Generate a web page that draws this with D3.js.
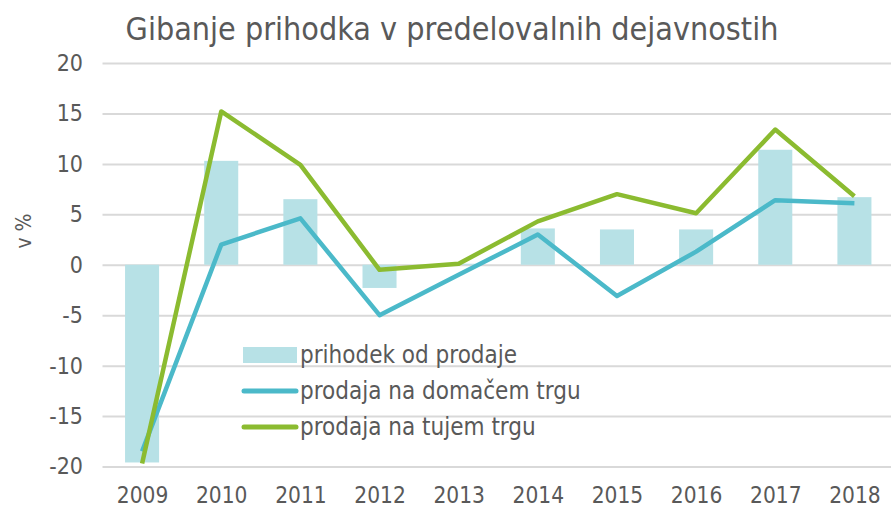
<!DOCTYPE html>
<html><head><meta charset="utf-8">
<script src="https://cdn.jsdelivr.net/npm/d3@7"></script>
<style>
html,body{margin:0;padding:0;background:#fff;}
text{font-family:"DejaVu Sans Condensed","DejaVu Sans",sans-serif;fill:#595959;}
</style></head><body>
<svg id="c" width="891" height="508"></svg>
<script>
const years = ["2009","2010","2011","2012","2013","2014","2015","2016","2017","2018"];
const prihodek = [-19.6,10.3,6.5,-2.3,0.1,3.6,3.5,3.5,11.4,6.7];
const domaci = [-18.5,2.0,4.6,-5.0,-1.0,3.0,-3.1,1.3,6.4,6.1];
const tuji = [-19.7,15.2,9.9,-0.5,0.1,4.3,7.0,5.1,13.4,6.8];
const yTicks = [-20,-15,-10,-5,0,5,10,15,20];
const seriesNames = ["prihodek od prodaje","prodaja na domačem trgu","prodaja na tujem trgu"];
const title = "Gibanje prihodka v predelovalnih dejavnostih";
const yLabel = "v %";

const svg = d3.select("#c");
const pL = 102.5, pR = 894, pT = 63, pB = 466.5;
const x = d3.scaleBand().domain(years).range([pL, pR]).paddingInner(0.57).paddingOuter(0.285);
const xc = d3.scalePoint().domain(years).range([pL + 39.6, pR - 39.6]);
const y = d3.scaleLinear().domain([-20, 20]).range([pB, pT]);

// grid
const yAxis = d3.axisLeft(y).tickValues(yTicks).tickSize(-(pR-pL)).tickPadding(19.5).tickFormat(d => String(d));
const ga = svg.append("g").attr("transform", `translate(${pL},0)`).call(yAxis);
ga.select(".domain").remove();
ga.selectAll(".tick line").attr("stroke", "#d9d9d9").attr("stroke-width", 2);
ga.selectAll(".tick text").style("font-size", "23px").attr("fill", "#595959").attr("text-anchor", "end");

// bars
svg.append("g").selectAll("rect").data(years).join("rect")
  .attr("x", d => x(d))
  .attr("width", x.bandwidth())
  .attr("y", (d,i) => Math.min(y(prihodek[i]), y(0)))
  .attr("height", (d,i) => Math.abs(y(prihodek[i]) - y(0)))
  .attr("fill", "#b7e1e6");

// lines
const line = d3.line().x((d,i) => xc(years[i])).y(d => y(d));
svg.append("path").datum(domaci).attr("d", line).attr("fill","none").attr("stroke","#4bb9c9").attr("stroke-width",4.5).attr("stroke-linejoin","round");
svg.append("path").datum(tuji).attr("d", line).attr("fill","none").attr("stroke","#8bbb30").attr("stroke-width",4.5).attr("stroke-linejoin","round");

// x axis labels
const xAxis = d3.axisBottom(xc).tickSize(0).tickPadding(0);
const gx = svg.append("g").attr("transform", `translate(0,${pB})`).call(xAxis);
gx.select(".domain").remove();
gx.selectAll(".tick text").style("font-size","22.5px").attr("fill","#595959").attr("dy", null).attr("y", 36);

// title
svg.append("text").attr("x", 452).attr("y", 40).attr("text-anchor","middle").style("font-size","32px").text(title);
// y label
svg.append("text").attr("transform","translate(31,231) rotate(-90)").attr("text-anchor","middle").style("font-size","21px").text(yLabel);

// legend
const lg = svg.append("g");
lg.append("rect").attr("x",243).attr("y",347).attr("width",54).attr("height",16).attr("fill","#b7e1e6");
lg.append("line").attr("x1",244).attr("x2",296).attr("y1",391).attr("y2",391).attr("stroke","#4bb9c9").attr("stroke-width",5).attr("stroke-linecap","round");
lg.append("line").attr("x1",244).attr("x2",296).attr("y1",427).attr("y2",427).attr("stroke","#8bbb30").attr("stroke-width",5).attr("stroke-linecap","round");
seriesNames.forEach((n,i) => {
  lg.append("text").attr("x",300).attr("y",355 + i*36).attr("dy","0.35em").style("font-size","24px").text(n);
});
</script>
</body></html>
